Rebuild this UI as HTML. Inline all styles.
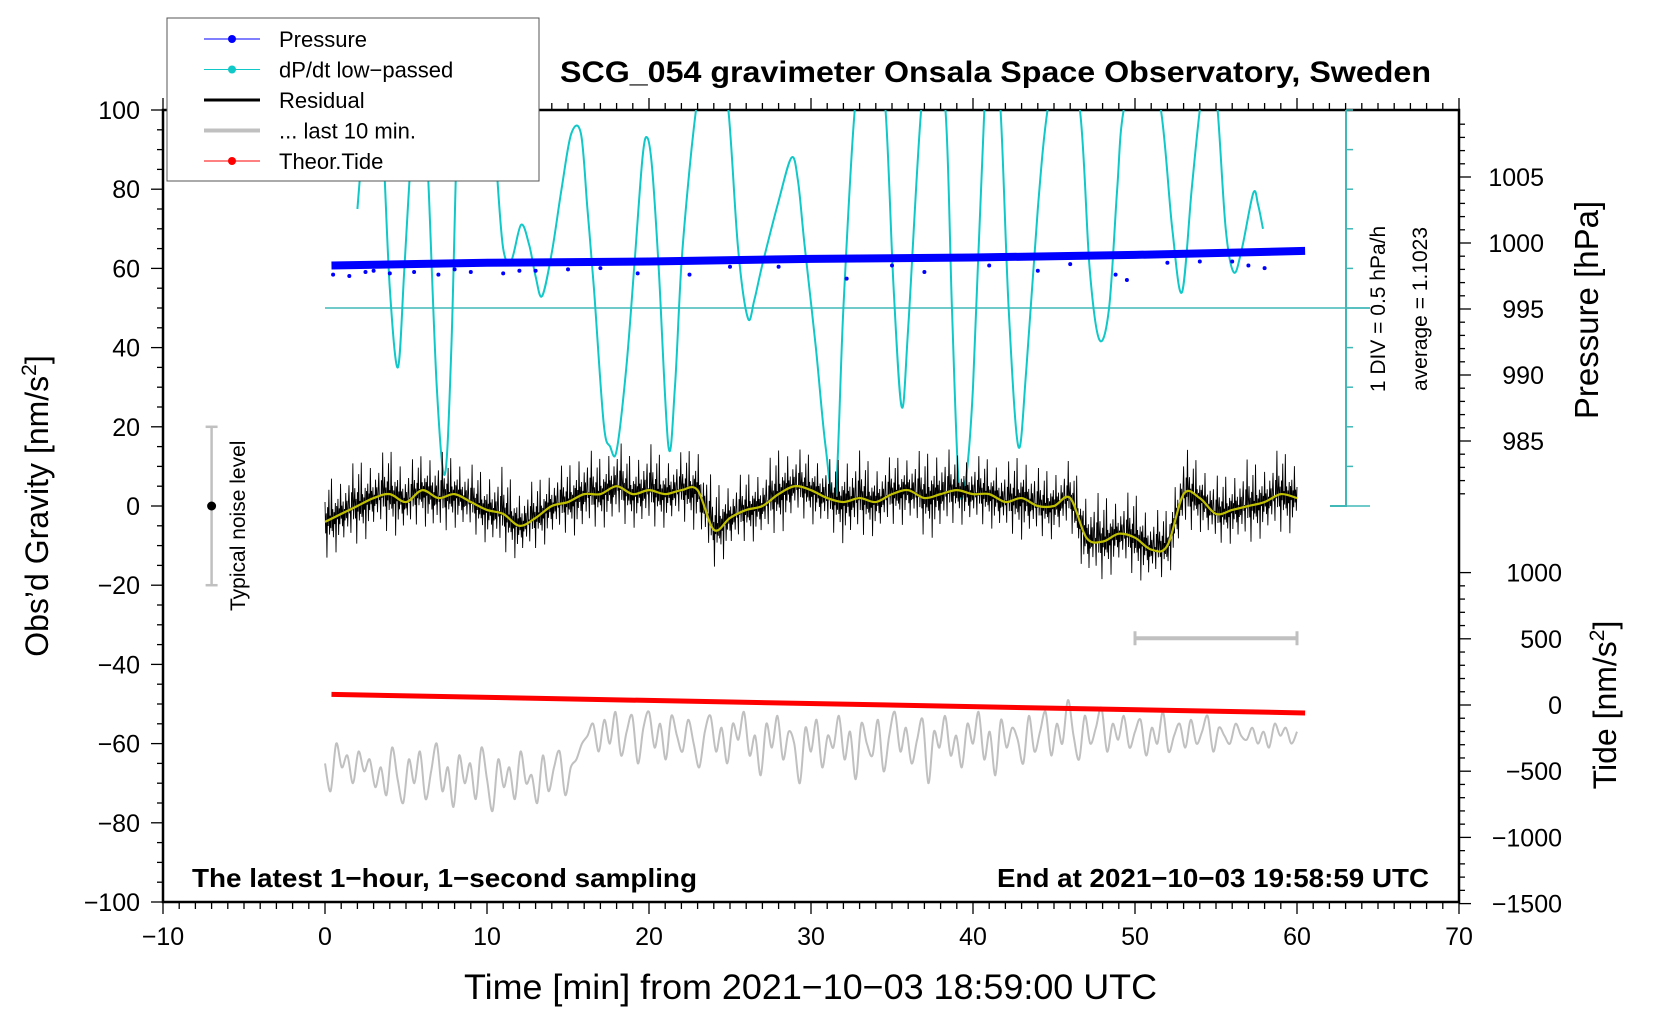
<!DOCTYPE html>
<html><head><meta charset="utf-8"><style>
html,body{margin:0;padding:0;background:#fff;}
svg{display:block;font-family:"Liberation Sans",sans-serif;}
</style></head><body>
<svg id="chart" width="1660" height="1020" viewBox="0 0 1660 1020" xmlns="http://www.w3.org/2000/svg">
<defs><clipPath id="plotclip"><rect x="163" y="110" width="1296" height="792"/></clipPath></defs>
<g id="axes"></g>
<g id="series" clip-path="url(#plotclip)"></g>
<g id="labels"></g>
</svg>
<script>
const xTicks=[-10,0,10,20,30,40,50,60,70];
const yTicks=[100,80,60,40,20,0,-20,-40,-60,-80,-100];
const pTicks=[1005,1000,995,990,985];
const tideTicks=[1000,500,0,-500,-1000,-1500];
const residT=[0,1,2,3,4,5,6,7,8,9,10,11,12,13,14,15,16,17,18,19,20,21,22,23,24,25,26,27,28,29,30,31,32,33,34,35,36,37,38,39,40,41,42,43,44,45,46,47,48,49,50,51,52,53,54,55,56,57,58,59,60];
const residSmooth=[-4,-2,0,2,3,1,4,2,3,1,-1,-2,-5,-3,0,1,3,3,5,3,4,3,4,4,-6,-3,-1,0,3,5,4,2,1,2,1,3,4,2,3,4,3,3,1,2,0,0,2,-8,-9,-7,-8,-11,-10,3,2,-2,-1,0,1,3,2];
const residAmp=[5,4,5,4,5,4,4,5,4,4,4,5,4,4,4,4,5,4,5,4,5,4,4,5,5,4,4,4,5,4,4,4,5,5,4,4,4,5,5,4,4,4,4,5,4,4,4,5,5,4,5,4,4,5,4,4,4,5,4,5,4];
const jitter=[1,-0.6,0.4,-1.9,0.7,-0.3,1.6,-0.8,0.2,-0.5,2.2,-0.7,0.5,-1.1,0.3,-0.4,0.8,-2.1,0.6,-0.2,1,-1.2,0.4,-0.6,1.9,-0.3,0.5,-0.8,0.7,-1.5,0.2,-0.5,1.1,-0.4,0.6,-0.9,0.3,1.4,-0.2,0.1,-1.3,0.9,-0.1,2.4,-0.6,0.3];
const grayVals=[-65,-72,-60,-66,-63,-70,-62,-67,-64,-71,-66,-73,-61,-69,-75,-64,-70,-62,-74,-67,-60,-72,-66,-76,-63,-70,-65,-74,-61,-69,-77,-64,-71,-66,-74,-62,-70,-68,-75,-63,-72,-66,-62,-73,-66,-64,-60,-58,-55,-62,-54,-60,-52,-63,-57,-53,-65,-56,-52,-61,-55,-64,-53,-58,-62,-54,-60,-66,-57,-53,-62,-56,-65,-55,-59,-52,-63,-58,-68,-55,-61,-53,-64,-57,-60,-70,-56,-62,-54,-66,-58,-61,-53,-64,-57,-69,-55,-60,-63,-54,-67,-58,-52,-62,-56,-65,-59,-54,-70,-57,-61,-53,-63,-58,-66,-55,-60,-52,-64,-57,-68,-54,-61,-56,-59,-65,-53,-62,-57,-52,-63,-55,-60,-49,-58,-64,-53,-60,-56,-51,-62,-55,-59,-53,-61,-57,-54,-63,-56,-60,-52,-62,-58,-55,-61,-54,-60,-57,-53,-62,-56,-58,-60,-55,-58,-59,-56,-60,-57,-61,-55,-58,-56,-60,-57];
const pressT=[0.4,10,20,30,40,50,60.5];
const pressVals=[998.3,998.5,998.6,998.8,998.9,999.1,999.4];
const outT=[0.5,1.5,2.5,4,7,9,11,13,19.3,22.5,32.2,37,44,48.8,49.5,57,58,3,5.5,8,12,15,17,25,28,35,41,46,52,54,56];
const outP=[997.6,997.5,997.8,997.7,997.6,997.8,997.7,997.9,997.7,997.6,997.3,997.8,997.9,997.6,997.2,998.3,998.1,997.9,997.8,998.0,997.9,998.0,998.1,998.2,998.2,998.3,998.3,998.4,998.5,998.6,998.6];
const tideT=[0.4,60.5];
const tideVals=[80,-60];
const cyanT=[2.0,2.5,2.9,3.3,3.6,4.0,4.5,4.9,5.4,5.75,6.1,6.4,6.9,7.4,7.8,8.2,8.6,9.5,10.3,10.6,11.0,11.5,12.1,12.6,13.0,13.4,14.0,14.6,15.2,15.8,16.2,16.6,17.2,17.6,18.0,18.6,19.1,19.6,19.9,20.2,20.6,21.2,21.6,22.0,22.5,22.9,23.5,24.2,24.9,25.5,26.1,26.5,27.0,28.0,28.8,29.2,29.6,30.3,30.9,31.5,32.0,32.7,33.4,34.0,34.6,35.1,35.6,36.0,36.8,37.5,38.3,38.7,39.1,39.5,40.0,40.7,41.2,41.7,42.2,42.8,43.3,44.0,44.6,45.5,46.6,47.2,47.8,48.4,48.9,49.3,50.5,51.6,52.3,52.9,53.5,54.0,54.6,55.1,55.6,56.1,56.6,57.3,57.6,57.9];
const cyanG=[75,100,115,105,90,55,35,60,95,110,105,80,30,8,40,100,118,120,105,85,65,62,71,66,58,53,64,80,94,94,75,55,21,15,14,35,61,88,93,85,60,15,30,61,85,100,118,118,100,65,47.5,52,61,77,88,82,66,40,15,2,50,100,118,115,100,55,25,45,100,118,100,50,7,5,30,100,118,100,50,15,35,75,100,118,100,60,42,50,80,100,118,100,70,54,80,100,118,100,70,59,65,79,76,70];

const NS="http://www.w3.org/2000/svg";
const X=t=>163+(t+10)*16.2;
const Y=g=>110+(100-g)*3.96;
const PY=p=>309-(p-995)*13.2;
const TY=v=>705-v*0.1324;
function mk(tag,attrs,parent){const e=document.createElementNS(NS,tag);for(const k in attrs)e.setAttribute(k,attrs[k]);parent.appendChild(e);return e;}
function interp(ts,vs,t){for(let i=0;i<ts.length-1;i++){if(t<=ts[i+1]){const f=(t-ts[i])/(ts[i+1]-ts[i]);return vs[i]+f*(vs[i+1]-vs[i]);}}return vs[vs.length-1];}
function spline(P){let d='M'+P[0][0]+','+P[0][1];for(let i=0;i<P.length-1;i++){const p0=P[Math.max(0,i-1)],p1=P[i],p2=P[i+1],p3=P[Math.min(P.length-1,i+2)];const c1=[p1[0]+(p2[0]-p0[0])/6,p1[1]+(p2[1]-p0[1])/6],c2=[p2[0]-(p3[0]-p1[0])/6,p2[1]-(p3[1]-p1[1])/6];d+=` C${c1[0]},${c1[1]} ${c2[0]},${c2[1]} ${p2[0]},${p2[1]}`;}return d;}
const axes=document.getElementById('axes'),series=document.getElementById('series'),labels=document.getElementById('labels');

let fr=mk('rect',{x:163,y:110,width:1296,height:792,fill:'none',stroke:'#000','stroke-width':2.5},axes);


for(let t=-10;t<=70;t+=1){const maj=t%10===0;mk('line',{x1:X(t),x2:X(t),y1:902,y2:maj?914:909,stroke:'#000','stroke-width':1.3},axes);mk('line',{x1:X(t),x2:X(t),y1:110,y2:maj?98:103,stroke:'#000','stroke-width':1.3},axes);}
xTicks.forEach(t=>{const e=mk('text',{x:X(t),y:945,'font-size':25,'text-anchor':'middle'},labels);e.textContent=String(t).replace('-','\u2212');

});
for(let g=-100;g<=100;g+=5){const maj=g%20===0;mk('line',{x1:163,x2:maj?151:157,y1:Y(g),y2:Y(g),stroke:'#000','stroke-width':1.3},axes);}
yTicks.forEach(g=>{const e=mk('text',{x:140,y:Y(g)+9,'font-size':25,'text-anchor':'end'},labels);e.textContent=String(g).replace('-','\u2212');

});
for(let p=981;p<=1009;p++){const maj=p%5===0;mk('line',{x1:1459,x2:maj?1471:1465,y1:PY(p),y2:PY(p),stroke:'#000','stroke-width':1.3},axes);}
pTicks.forEach(p=>{const e=mk('text',{x:1544,y:PY(p)+9,'font-size':25,'text-anchor':'end'},labels);e.textContent=p;

});
for(let v=-1500;v<=1000;v+=100){const maj=v%500===0;mk('line',{x1:1459,x2:maj?1471:1465,y1:TY(v),y2:TY(v),stroke:'#000','stroke-width':1.3},axes);}
tideTicks.forEach(v=>{const e=mk('text',{x:1562,y:TY(v)+9,'font-size':25,'text-anchor':'end'},labels);e.textContent=String(v).replace('-','\u2212');

});
mk('line',{x1:1346,x2:1346,y1:110,y2:507,stroke:'#40b8b8','stroke-width':2},axes);
for(let g=0;g<=100;g+=10){mk('line',{x1:1346,x2:g===0||g===50?1370:1353,y1:Y(g),y2:Y(g),stroke:'#40b8b8','stroke-width':1.5},axes);}
mk('line',{x1:1330,x2:1346,y1:Y(0),y2:Y(0),stroke:'#40b8b8','stroke-width':2},axes);
let hl=mk('line',{x1:X(0),x2:1370,y1:Y(50),y2:Y(50),stroke:'#40b8b8','stroke-width':1.5},series);



let cy=mk('path',{d:spline(cyanT.map((t,i)=>[X(t),Y(cyanG[i])])),fill:'none',stroke:'#10c8c8','stroke-width':2},series);


let pl=mk('polyline',{points:pressT.map((t,i)=>X(t)+','+PY(pressVals[i])).join(' '),fill:'none',stroke:'#0000ff','stroke-width':8},series);


outT.forEach((t,i)=>{const c=mk('circle',{cx:X(t),cy:PY(outP[i]),r:2,fill:'#0000ff'},series);

});
let pts=[];let k=0;for(let t=0;t<=60.001;t+=0.04){const base=interp(residT,residSmooth,t);const a=interp(residT,residAmp,t);pts.push(X(t)+','+Y(base+a*jitter[k%jitter.length]));k++;}
let rl=mk('polyline',{points:pts.join(' '),fill:'none',stroke:'#000','stroke-width':0.9},series);


let yl=mk('path',{d:spline(residT.map((t,i)=>[X(t),Y(residSmooth[i])])),fill:'none',stroke:'#c0c000','stroke-width':2.2},series);


const gstep=60/(grayVals.length-1);
let gl=mk('path',{d:spline(grayVals.map((v,i)=>[X(i*gstep),Y(v)])),fill:'none',stroke:'#c0c0c0','stroke-width':2},series);


let tl=mk('line',{x1:X(tideT[0]),x2:X(tideT[1]),y1:TY(tideVals[0]),y2:TY(tideVals[1]),stroke:'#ff0000','stroke-width':5},series);


mk('line',{x1:X(50),x2:X(60),y1:Y(-33.4),y2:Y(-33.4),stroke:'#c0c0c0','stroke-width':4},series);
mk('line',{x1:X(50),x2:X(50),y1:Y(-33.4)-7,y2:Y(-33.4)+7,stroke:'#c0c0c0','stroke-width':3},series);
mk('line',{x1:X(60),x2:X(60),y1:Y(-33.4)-7,y2:Y(-33.4)+7,stroke:'#c0c0c0','stroke-width':3},series);
mk('line',{x1:X(-7),x2:X(-7),y1:Y(20),y2:Y(-20),stroke:'#c0c0c0','stroke-width':2.5},series);
mk('line',{x1:X(-7)-6,x2:X(-7)+6,y1:Y(20),y2:Y(20),stroke:'#c0c0c0','stroke-width':2.5},series);
mk('line',{x1:X(-7)-6,x2:X(-7)+6,y1:Y(-20),y2:Y(-20),stroke:'#c0c0c0','stroke-width':2.5},series);
mk('circle',{cx:X(-7),cy:Y(0),r:4.5,fill:'#000'},series);

function txt(s,attrs,name){const e=mk('text',attrs,labels);e.textContent=s;

return e;}
txt('Typical noise level',{x:0,y:0,'font-size':21,'text-anchor':'middle',transform:`translate(245,${Y(-5)}) rotate(-90)`},'noise-level-label');
txt('1 DIV = 0.5 hPa/h',{x:0,y:0,'font-size':21,'text-anchor':'middle',transform:'translate(1385,309) rotate(-90)'},'div-label');
txt('average = 1.1023',{x:0,y:0,'font-size':21,'text-anchor':'middle',transform:'translate(1427,309) rotate(-90)'},'average-label');
txt('SCG_054 gravimeter Onsala Space Observatory, Sweden',{x:560,y:82,'font-size':30,'font-weight':'bold',textLength:871,lengthAdjust:'spacingAndGlyphs'},'chart-title');
txt('The latest 1\u2212hour, 1\u2212second sampling',{x:192,y:887,'font-size':26,'font-weight':'bold',textLength:505,lengthAdjust:'spacingAndGlyphs'},'sampling-note');
txt('End at 2021\u221210\u221203 19:58:59 UTC',{x:997,y:887,'font-size':26,'font-weight':'bold',textLength:432,lengthAdjust:'spacingAndGlyphs'},'end-time-note');
txt('Time [min] from 2021\u221210\u221203 18:59:00 UTC',{x:464,y:999,'font-size':35,textLength:693,lengthAdjust:'spacingAndGlyphs'},'x-axis-title');
const yt=txt('',{x:0,y:0,'font-size':32,'text-anchor':'middle',transform:'translate(48,506) rotate(-90)'},'y-axis-title');
yt.innerHTML='Obs\u2019d Gravity [nm/s<tspan dy="-12" font-size="21">2</tspan><tspan dy="12">]</tspan>';
txt('Pressure [hPa]',{x:0,y:0,'font-size':33,'text-anchor':'middle',transform:'translate(1598,310) rotate(-90)'},'pressure-axis-title');
const tt=txt('',{x:0,y:0,'font-size':32,'text-anchor':'middle',transform:'translate(1616,705) rotate(-90)'},'tide-axis-title');
tt.innerHTML='Tide [nm/s<tspan dy="-12" font-size="21">2</tspan><tspan dy="12">]</tspan>';

const lg=mk('g',{},labels);


mk('rect',{x:167,y:18,width:372,height:163,fill:'#fff',stroke:'#555','stroke-width':1},lg);
const legNames=['Pressure','dP/dt low\u2212passed','Residual','... last 10 min.','Theor.Tide'];
const legCols=['#0000ff','#10c8c8','#000','#c0c0c0','#ff0000'];
const legW=[1,1,3,4,1];const legDot=[1,1,0,0,1];
legNames.forEach((n,i)=>{const cyy=39+i*30.5;
mk('line',{x1:204,x2:260,y1:cyy,y2:cyy,stroke:legCols[i],'stroke-width':legW[i]},lg);
if(legDot[i])mk('circle',{cx:232,cy:cyy,r:4,fill:legCols[i]},lg);
const e=mk('text',{x:279,y:cyy+8,'font-size':22},lg);e.textContent=n;

});
</script>
</body></html>
